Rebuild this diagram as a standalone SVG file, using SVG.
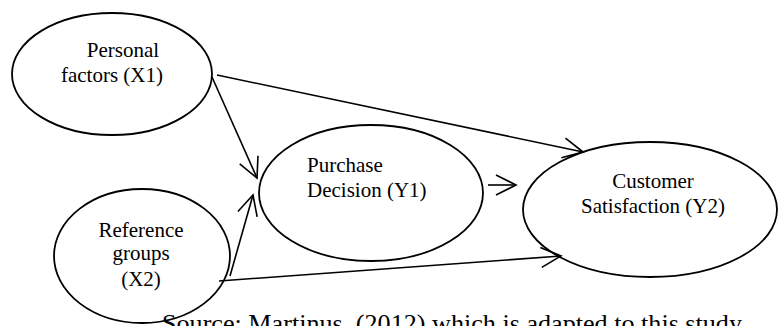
<svg xmlns="http://www.w3.org/2000/svg" width="779" height="326" viewBox="0 0 779 326">
<defs>
<style>
.node ellipse{fill:none;stroke:#000;stroke-width:1.8}
.lbl{font-family:"Liberation Serif","Times New Roman",serif;font-size:21px;fill:#000}
.conn line{stroke:#000;stroke-width:1.6;fill:none}
.src{font-family:"Liberation Serif","Times New Roman",serif;font-size:26px;fill:#000}
</style>
<marker id="arr" markerUnits="userSpaceOnUse" markerWidth="24" markerHeight="24" viewBox="0 0 24 24" refX="21" refY="11" orient="auto">
<path d="M1,1 L21,11 L1,21" fill="none" stroke="#000" stroke-width="1.6"/>
</marker>
</defs>
<rect width="779" height="326" fill="#fff"/>
<text class="src" x="162" y="332" textLength="580" lengthAdjust="spacingAndGlyphs">Source: Martinus, (2012) which is adapted to this study</text>
<g id="personal" class="node">
<ellipse cx="112" cy="74" rx="100" ry="61"/>
<text class="lbl" x="123" y="57" text-anchor="middle">Personal</text>
<text class="lbl" x="112" y="82" text-anchor="middle">factors (X1)</text>
</g>
<g id="reference" class="node">
<ellipse cx="142" cy="256" rx="88" ry="67"/>
<text class="lbl" x="141" y="237" text-anchor="middle">Reference</text>
<text class="lbl" x="141" y="260" text-anchor="middle">groups</text>
<text class="lbl" x="141" y="286" text-anchor="middle">(X2)</text>
</g>
<g id="purchase" class="node">
<ellipse cx="371" cy="193" rx="112" ry="68"/>
<text class="lbl" x="307" y="172">Purchase</text>
<text class="lbl" x="307" y="197">Decision (Y1)</text>
</g>
<g id="customer" class="node">
<ellipse cx="650" cy="209.5" rx="127" ry="67.5"/>
<text class="lbl" x="653" y="188" text-anchor="middle">Customer</text>
<text class="lbl" x="653" y="213" text-anchor="middle">Satisfaction (Y2)</text>
</g>
<g id="connectors" class="conn">
<line x1="212" y1="77" x2="257" y2="178" marker-end="url(#arr)"/>
<line x1="217" y1="75" x2="583" y2="152" marker-end="url(#arr)"/>
<line x1="230" y1="276" x2="253" y2="195" marker-end="url(#arr)"/>
<line x1="219" y1="281" x2="561" y2="256" marker-end="url(#arr)"/>
<line x1="488" y1="185" x2="516" y2="185" marker-end="url(#arr)"/>
</g>
</svg>
